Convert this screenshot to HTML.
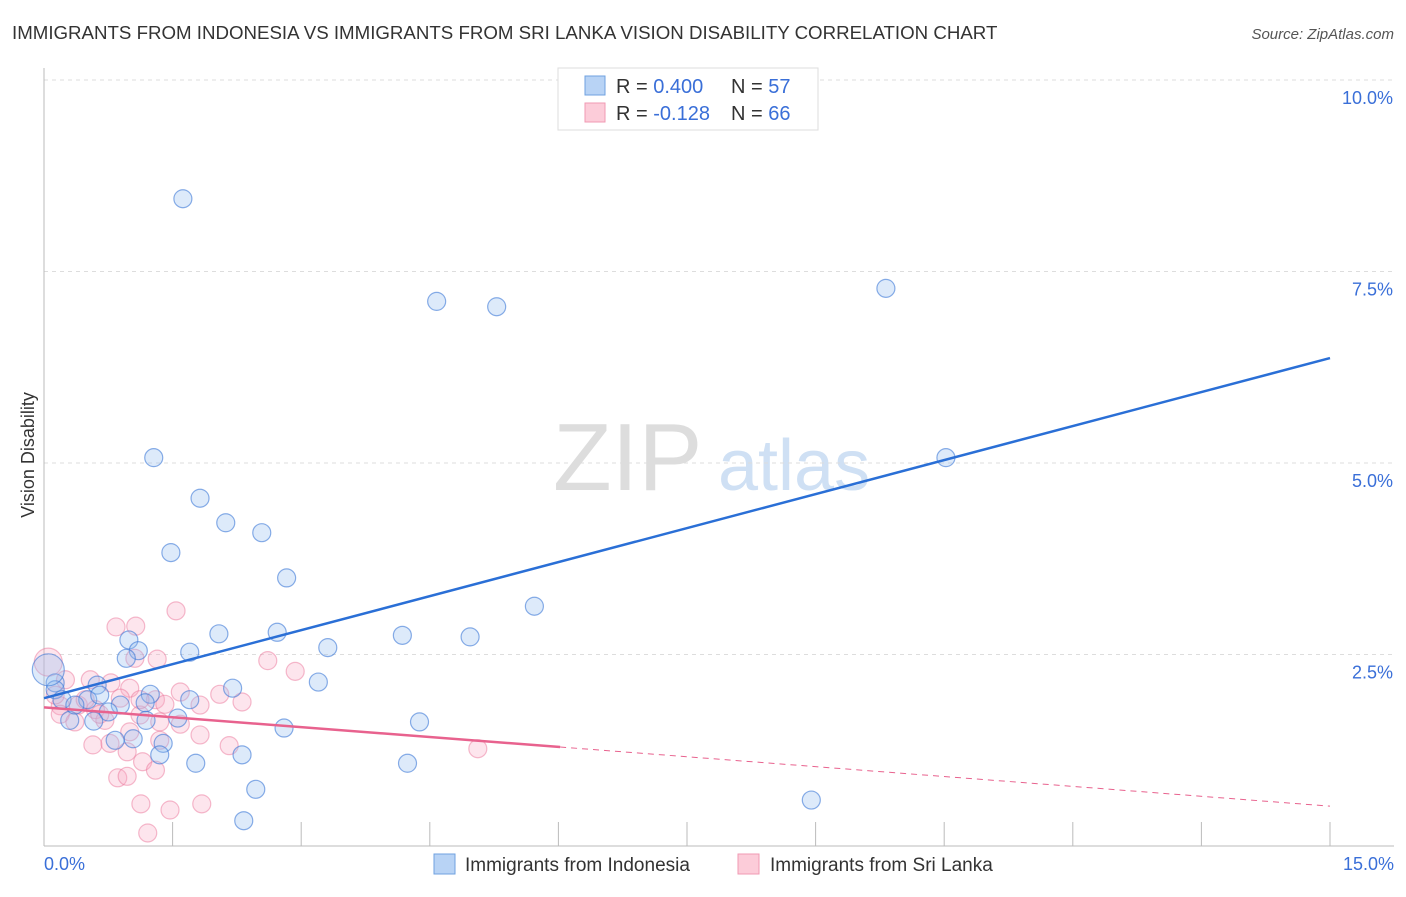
<!DOCTYPE html>
<html><head><meta charset="utf-8"><style>
body{margin:0;background:#fff;font-family:"Liberation Sans",sans-serif;}
svg text{font-family:"Liberation Sans",sans-serif;}
</style></head><body>
<svg id="chart" width="1406" height="892">
<text x="12" y="39" font-size="18.7" fill="#333">IMMIGRANTS FROM INDONESIA VS IMMIGRANTS FROM SRI LANKA VISION DISABILITY CORRELATION CHART</text>
<text x="1394" y="39" font-size="15" fill="#555" font-style="italic" text-anchor="end">Source: ZipAtlas.com</text>
<text x="34" y="455" font-size="18" fill="#333" transform="rotate(-90 34 455)" text-anchor="middle">Vision Disability</text>
<g><text x="553" y="490" font-size="96" fill="#ddd" font-family="Liberation Serif">ZIP</text><text x="718" y="490" font-size="72" fill="#cfe0f4">atlas</text></g>
<g id="grid"></g><g id="pts"></g><g id="lines"></g>
<g>
<rect x="558" y="68" width="260" height="62" fill="#fff" stroke="#ddd"/>
<rect x="585" y="76" width="20" height="19" fill="#b8d3f5" stroke="#6fa1e0"/>
<rect x="585" y="103" width="20" height="19" fill="#fcccd9" stroke="#f09ab3"/>
<text x="616" y="93" font-size="20" fill="#333">R = <tspan fill="#3a6fd8">0.400</tspan></text>
<text x="731" y="93" font-size="20" fill="#333">N = <tspan fill="#3a6fd8">57</tspan></text>
<text x="616" y="120" font-size="20" fill="#333">R = <tspan fill="#3a6fd8">-0.128</tspan></text>
<text x="731" y="120" font-size="20" fill="#333">N = <tspan fill="#3a6fd8">66</tspan></text>
</g>
<g>
<rect x="434" y="854" width="21" height="20" fill="#b8d3f5" stroke="#6fa1e0"/>
<text x="465" y="871" font-size="19" fill="#333">Immigrants from Indonesia</text>
<rect x="738" y="854" width="21" height="20" fill="#fcccd9" stroke="#f09ab3"/>
<text x="770" y="871" font-size="19" fill="#333">Immigrants from Sri Lanka</text>
</g>
</svg>
<script>
const yTicks=[10,7.5,5,2.5];
const yTickLabels=["10.0%","7.5%","5.0%","2.5%"];
const xTickVals=[1.5,3,4.5,6,7.5,9,10.5,12,13.5,15];
const xEndLabels=["0.0%","15.0%"];
const blueX=[1.62,4.58,5.28,9.82,10.52,1.28,1.82,2.12,2.54,1.48,2.83,5.72,2.04,2.72,4.18,4.97,0.99,3.31,1.10,1.70,0.96,3.20,2.20,0.62,0.13,1.24,1.70,1.18,0.89,0.51,0.75,1.56,1.19,0.58,0.30,4.38,2.80,1.39,1.04,0.83,1.35,2.31,1.77,4.24,2.47,8.95,2.33,0.13,0.21,0.36,0.65,0.05];
const blueY=[8.45,7.11,7.04,7.28,5.07,5.07,4.54,4.22,4.09,3.83,3.50,3.13,2.77,2.79,2.75,2.73,2.69,2.59,2.55,2.53,2.45,2.14,2.06,2.10,2.13,1.98,1.91,1.87,1.84,1.91,1.75,1.67,1.64,1.63,1.64,1.62,1.54,1.34,1.40,1.38,1.19,1.19,1.08,1.08,0.74,0.60,0.33,2.04,1.91,1.84,1.97,2.30];
const pinkX=[1.54,0.84,1.07,1.32,1.06,2.61,2.93,1.59,2.05,2.31,0.25,0.54,0.78,1.00,0.89,1.30,1.41,0.40,0.19,0.60,1.12,0.71,1.35,1.59,0.19,0.36,1.82,1.00,0.57,0.77,1.35,0.97,2.16,5.06,1.15,1.30,0.86,0.97,1.13,1.47,1.84,1.21,1.12,1.82,0.13,0.48,0.65,0.05];
const pinkY=[3.07,2.86,2.87,2.44,2.45,2.42,2.28,2.01,1.98,1.88,2.17,2.17,2.13,2.06,1.93,1.91,1.85,1.84,1.83,1.78,1.71,1.64,1.62,1.59,1.72,1.62,1.45,1.49,1.32,1.34,1.38,1.23,1.31,1.27,1.10,0.99,0.89,0.91,0.55,0.47,0.55,0.17,1.91,1.84,1.97,1.91,1.72,2.40];
const blueTrend=[1.93,6.37];
const pinkTrend=[1.81,0.52];
const pinkSolidEnd=6.02;
const NS="http://www.w3.org/2000/svg";
const X=v=>44+v/15*1286, Y=v=>846-v*76.6;
function mk(tag,attrs,parent){const e=document.createElementNS(NS,tag);for(const k in attrs)e.setAttribute(k,attrs[k]);parent.appendChild(e);return e;}
const grid=document.getElementById('grid');
yTicks.forEach((t,i)=>{
 const l=mk('line',{x1:44,x2:1394,y1:Y(t),y2:Y(t),stroke:'#ddd','stroke-dasharray':'4,4'},grid);
 
 
 const tx=mk('text',{x:1393,y:Y(t)+24,'font-size':18,fill:'#3a6fd8','text-anchor':'end'},grid);tx.textContent=yTickLabels[i];
 
 
});
const ax=mk('line',{x1:44,x2:44,y1:68,y2:846,stroke:'#bbb'},grid);


const bx=mk('line',{x1:44,x2:1394,y1:846,y2:846,stroke:'#bbb'},grid);


xTickVals.forEach(v=>{const t=mk('line',{x1:X(v),x2:X(v),y1:822,y2:846,stroke:'#bbb'},grid);
 
 });
[[0,'start',44],[15,'end',1394]].forEach((a,i)=>{const t=mk('text',{x:a[2],y:870,'font-size':18,fill:'#3a6fd8','text-anchor':a[1]},grid);t.textContent=xEndLabels[i];
 
 });
const pts=document.getElementById('pts');
pinkX.forEach((v,i)=>{const r=i===pinkX.length-1?14:9;const c=mk('circle',{cx:X(v),cy:Y(pinkY[i]),r:r,fill:'rgba(248,170,195,0.3)',stroke:'rgba(235,120,155,0.5)','stroke-width':1.2},pts);
 
 });
blueX.forEach((v,i)=>{const r=i===blueX.length-1?16:9;const c=mk('circle',{cx:X(v),cy:Y(blueY[i]),r:r,fill:'rgba(150,190,240,0.32)',stroke:'rgba(60,120,215,0.6)','stroke-width':1.2},pts);
 
 });
const lines=document.getElementById('lines');
const bl=mk('line',{x1:X(0),y1:Y(blueTrend[0]),x2:X(15),y2:Y(blueTrend[1]),stroke:'#2a6fd6','stroke-width':2.5},lines);


const pAt=v=>pinkTrend[0]+(pinkTrend[1]-pinkTrend[0])*v/15;
const pl=mk('line',{x1:X(0),y1:Y(pinkTrend[0]),x2:X(pinkSolidEnd),y2:Y(pAt(pinkSolidEnd)),stroke:'#e8628e','stroke-width':2.5},lines);


const pd=mk('line',{x1:X(pinkSolidEnd),y1:Y(pAt(pinkSolidEnd)),x2:X(15),y2:Y(pinkTrend[1]),stroke:'#e8628e','stroke-width':1,'stroke-dasharray':'6,5'},lines);


</script>
</body></html>
